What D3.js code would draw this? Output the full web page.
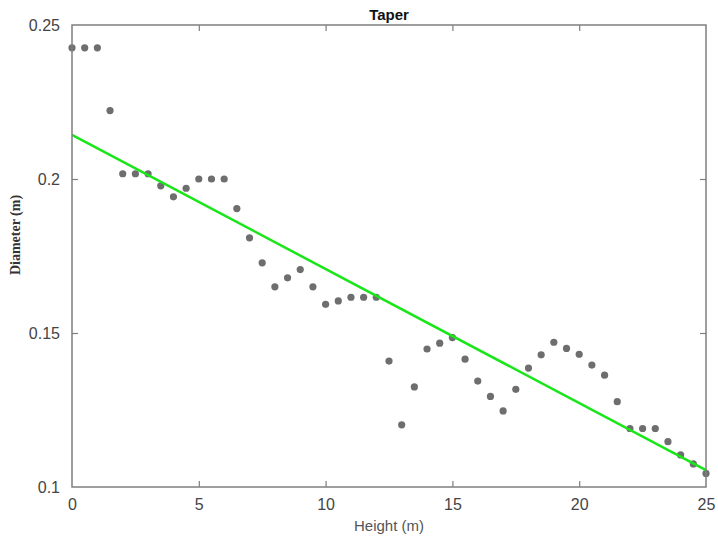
<!DOCTYPE html>
<html>
<head>
<meta charset="utf-8">
<script src="https://cdn.jsdelivr.net/npm/d3@7"></script>
<style>
  body { margin: 0; background: #fff; }
</style>
</head>
<body>
<div class="main"></div>
<script>
// Paramètres
const width = 718;
const height = 537;
const margin = { top: 25, right: 10, bottom: 50, left: 72 };

// Données
const hauteurs = [0, 0.5, 1, 1.5, 2, 2.5, 3, 3.5, 4, 4.5, 5, 5.5, 6, 6.5, 7, 7.5, 8, 8.5, 9, 9.5,
  10, 10.5, 11, 11.5, 12, 12.5, 13, 13.5, 14, 14.5, 15, 15.5, 16, 16.5, 17, 17.5, 18, 18.5, 19, 19.5,
  20, 20.5, 21, 21.5, 22, 22.5, 23, 23.5, 24, 24.5, 25];
const diametres = [0.2426, 0.2426, 0.2426, 0.2222, 0.2017, 0.2017, 0.2017, 0.1978, 0.1942, 0.1970,
  0.2000, 0.2000, 0.2000, 0.1904, 0.1809, 0.1728, 0.1650, 0.1679, 0.1706, 0.1650,
  0.1593, 0.1604, 0.1616, 0.1616, 0.1616, 0.1409, 0.1202, 0.1325, 0.1448, 0.1467,
  0.1485, 0.1415, 0.1344, 0.1294, 0.1247, 0.1317, 0.1386, 0.1429, 0.1470, 0.1450,
  0.1431, 0.1396, 0.1363, 0.1277, 0.1190, 0.1190, 0.1190, 0.1147, 0.1104, 0.1075, 0.1044];
// droite d'ajustement (début, fin)
const ajustX = [0, 25];
const ajustY = [0.2143, 0.1055];

const xTicks = [0, 5, 10, 15, 20, 25];
const yTicks = [0.1, 0.15, 0.2, 0.25];

const points = hauteurs.map((h, i) => ({ h: h, d: diametres[i] }));
const droite = ajustX.map((h, i) => ({ h: h, d: ajustY[i] }));

const svg = d3.select('.main')
  .append('svg')
  .attr('width', width)
  .attr('height', height)
  .style('font-family', 'Arial, "Liberation Sans", sans-serif');

const x = d3.scaleLinear()
  .domain([0, 25])
  .range([margin.left, width - margin.right - 2]);

const y = d3.scaleLinear()
  .domain([0.1, 0.25])
  .range([height - margin.bottom, margin.top]);

const gris = '#7f7f7f';

// Points
svg.append('g')
  .selectAll('circle')
  .data(points)
  .enter()
  .append('circle')
  .attr('cx', d => x(d.h))
  .attr('cy', d => y(d.d))
  .attr('r', 3.6)
  .style('fill', '#6e6e6e');

// Droite verte
svg.append('path')
  .datum(droite)
  .attr('d', d3.line().x(d => x(d.h)).y(d => y(d.d)))
  .style('fill', 'none')
  .style('stroke', '#19e619')
  .style('stroke-width', 2.5);

// Axes (ticks vers l'intérieur)
const tickLen = 6;
const styleAxe = g => {
  g.select('.domain').remove();
  g.selectAll('line').style('stroke', gris).style('stroke-width', 1.2);
  g.selectAll('text').style('fill', '#444').style('font-size', '16px');
};

svg.append('g')
  .attr('transform', `translate(0, ${y(0.1)})`)
  .call(d3.axisBottom(x).tickValues(xTicks).tickSize(-tickLen).tickPadding(12).tickFormat(d3.format('d')))
  .call(styleAxe)
  .call(g => g.selectAll('.tick').filter(d => d === 0 || d === 25).select('line').remove());

svg.append('g')
  .attr('transform', `translate(0, ${y(0.25)})`)
  .call(d3.axisTop(x).tickValues(xTicks).tickSize(-tickLen).tickFormat(''))
  .call(styleAxe)
  .call(g => g.selectAll('.tick').filter(d => d === 0 || d === 25).select('line').remove());

svg.append('g')
  .attr('transform', `translate(${x(0)}, 0)`)
  .call(d3.axisLeft(y).tickValues(yTicks).tickSize(-tickLen).tickPadding(12).tickFormat(d => String(+d.toFixed(2))))
  .call(styleAxe)
  .call(g => g.selectAll('.tick').filter(d => d === 0.1 || d === 0.25).select('line').remove());

svg.append('g')
  .attr('transform', `translate(${x(25)}, 0)`)
  .call(d3.axisRight(y).tickValues(yTicks).tickSize(-tickLen).tickFormat(''))
  .call(styleAxe)
  .call(g => g.selectAll('.tick').filter(d => d === 0.1 || d === 0.25).select('line').remove());

// Cadre
svg.append('rect')
  .attr('x', x(0))
  .attr('y', y(0.25))
  .attr('width', x(25) - x(0))
  .attr('height', y(0.1) - y(0.25))
  .style('fill', 'none')
  .style('stroke', gris)
  .style('stroke-width', 1.5);

// Titre
svg.append('text')
  .attr('x', (x(0) + x(25)) / 2)
  .attr('y', 20)
  .attr('text-anchor', 'middle')
  .style('font-weight', 'bold')
  .style('font-size', '15px')
  .style('fill', '#111')
  .text('Taper');

// Titre axe X
svg.append('text')
  .attr('x', (x(0) + x(25)) / 2)
  .attr('y', 531)
  .attr('text-anchor', 'middle')
  .style('font-size', '15px')
  .style('fill', '#555')
  .text('Height (m)');

// Titre axe Y
svg.append('text')
  .attr('transform', `translate(20, 235) rotate(-90)`)
  .attr('text-anchor', 'middle')
  .style('font-family', '"Liberation Serif", "Times New Roman", serif')
  .style('font-weight', 'bold')
  .style('font-size', '14px')
  .style('fill', '#333')
  .text('Diameter (m)');
</script>
</body>
</html>
